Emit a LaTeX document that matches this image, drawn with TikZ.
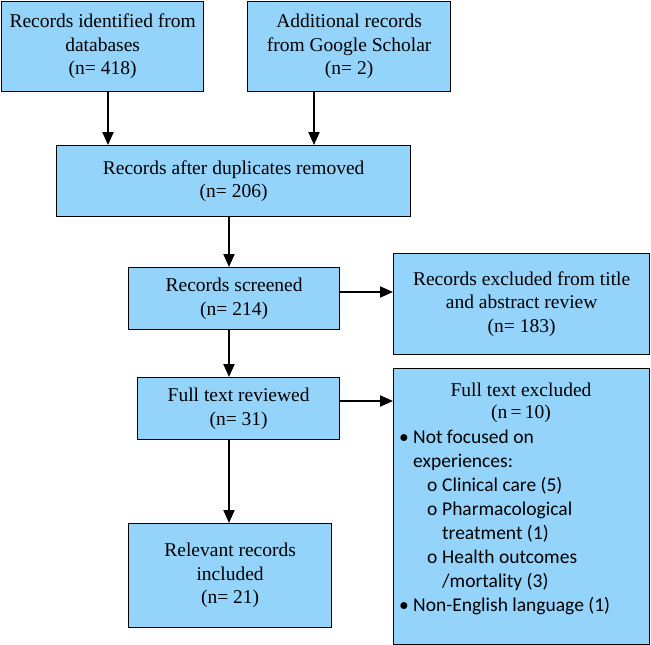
\documentclass[tikz,border=0pt]{standalone}
\usepackage{fontspec}
\setmainfont{Liberation Serif}
\newfontfamily\calib{Carlito}
\usetikzlibrary{arrows.meta}
\definecolor{boxblue}{RGB}{148,212,251}
\begin{document}
\begin{tikzpicture}[x=1pt,y=-1pt,
  box/.style={draw=black, line width=1.3pt, fill=boxblue, anchor=north west, inner sep=0pt,
              align=center, font=\fontsize{19.5}{23.5}\selectfont},
  arr/.style={-{Triangle[length=13pt,width=11pt]}, line width=2pt},
  ttl/.style={inner sep=0pt, align=center, font=\fontsize{19.5}{22}\selectfont},
  lst/.style={inner sep=0pt, align=left, anchor=north west, font=\calib\fontsize{19.5}{24}\selectfont}
]
\useasboundingbox (0,0) rectangle (651,645);

\node[box, minimum width=202pt, minimum height=90pt] (b1) at (1,1) {Records identified from\\databases\\(n= 418)};
\node[box, minimum width=203pt, minimum height=90pt] (b2) at (247,1) {Additional records\\from Google Scholar\\(n= 2)};
\node[box, minimum width=354pt, minimum height=71pt] (b3) at (56,145) {Records after duplicates removed\\(n= 206)};
\node[box, minimum width=211pt, minimum height=62pt] (b4) at (128,267) {Records screened\\(n= 214)};
\node[box, minimum width=256pt, minimum height=101pt] (b5) at (393,253) {Records excluded from title\\and abstract review\\(n= 183)};
\node[box, minimum width=202pt, minimum height=62pt] (b6) at (137,377) {Full text reviewed\\(n= 31)};
\node[box, minimum width=256pt, minimum height=276pt] (b7) at (393,368) {};
\node[box, minimum width=203pt, minimum height=104pt] (b8) at (128,523) {Relevant records\\included\\(n= 21)};

\node[ttl, anchor=north] (b7t) at (521,380.6) {\strut Full text excluded\\(n\,=\,10)};
\node[lst] (b7l) at (399,426.2) {\strut\makebox[14pt][l]{\textbullet}Not focused on\\
\hspace*{14pt}experiences:\\
\hspace*{28pt}\makebox[15pt][l]{o}Clinical care (5)\\
\hspace*{28pt}\makebox[15pt][l]{o}Pharmacological\\
\hspace*{43pt}treatment (1)\\
\hspace*{28pt}\makebox[15pt][l]{o}Health outcomes\\
\hspace*{43pt}/mortality (3)\\
\makebox[14pt][l]{\textbullet}Non-English language (1)};

\coordinate (xa) at (108,0);
\coordinate (xb) at (314,0);
\coordinate (xc) at (229,0);
\coordinate (ya) at (0,292);
\coordinate (yb) at (0,401);

\draw[arr] (b1.south -| xa) -- (b3.north -| xa);
\draw[arr] (b2.south -| xb) -- (b3.north -| xb);
\draw[arr] (b3.south -| xc) -- (b4.north -| xc);
\draw[arr] (b4.east |- ya) -- (b5.west |- ya);
\draw[arr] (b4.south -| xc) -- (b6.north -| xc);
\draw[arr] (b6.east |- yb) -- (b7.west |- yb);
\draw[arr] (b6.south -| xc) -- (b8.north -| xc);
\end{tikzpicture}
\end{document}
